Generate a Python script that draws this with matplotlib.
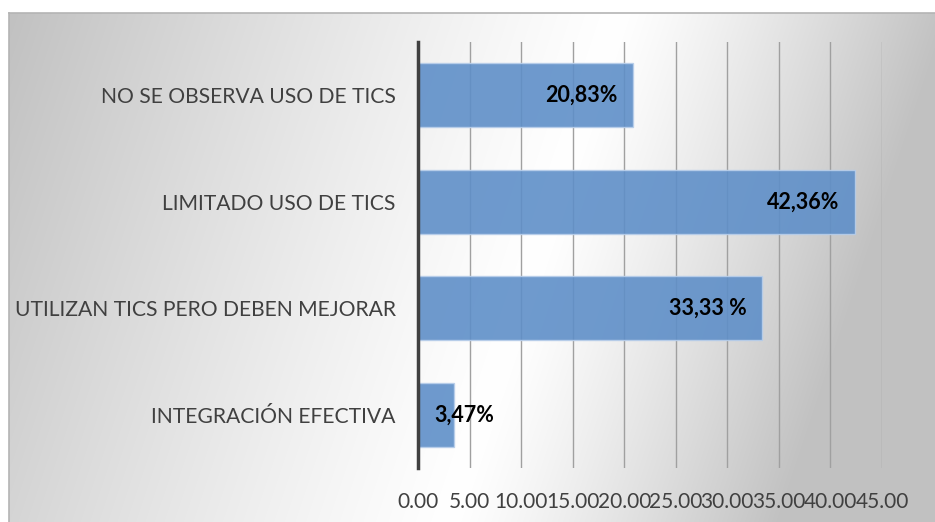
import numpy as np
import matplotlib
matplotlib.use("Agg")
import matplotlib.pyplot as plt

# ---- data ----
categories = ["NO SE OBSERVA USO DE TICS", "LIMITADO USO DE TICS",
              "UTILIZAN TICS PERO DEBEN MEJORAR", "INTEGRACIÓN EFECTIVA"]
values = [20.83, 42.36, 33.33, 3.47]
value_labels = ["20,83%", "42,36%", "33,33 %", "3,47%"]
xticks = [0, 5, 10, 15, 20, 25, 30, 35, 40, 45]
xtick_labels = ["0.00", "5.00", "10.00", "15.00", "20.00", "25.00",
                "30.00", "35.00", "40.00", "45.00"]

W, H = 935, 522
fig = plt.figure(figsize=(W / 100, H / 100), dpi=100)
fig.patch.set_facecolor("white")

# ---- background chart area with gradient ----
bx0, btop = 9, 13
bg = fig.add_axes([bx0 / W, 0, 1 - bx0 / W, (H - btop) / H])
xs = np.arange(bx0, W)
ys = np.arange(btop, H)
X, Y = np.meshgrid(xs, ys)
xb = 620 - 170 * (Y - btop) / (H - btop)
u = X - xb
L = np.where(u < 0, 610.0, 330.0)
t = np.clip(np.abs(u) / L, 0, 1)
val = 255 - 62 * t ** 1.2
img = np.dstack([val, val, val]) / 255.0
bg.imshow(img, aspect="auto", extent=[0, 1, 0, 1], interpolation="bilinear")
bg.set_xlim(0, 1)
bg.set_ylim(0, 1)
bg.set_xticks([])
bg.set_yticks([])
for s in ["right", "bottom"]:
    bg.spines[s].set_visible(False)
for s in ["left", "top"]:
    bg.spines[s].set_color("#B4B4B4")
    bg.spines[s].set_linewidth(1.2)
bg.set_zorder(0)

# ---- main axes ----
ax_l, ax_r, ax_t, ax_b = 418, 882, 42, 468
ax = fig.add_axes([ax_l / W, (H - ax_b) / H, (ax_r - ax_l) / W, (ax_b - ax_t) / H])
ax.set_zorder(1)
ax.patch.set_alpha(0)

ypos = np.arange(len(categories))[::-1]
ax.set_xlim(0, 45)
ax.set_ylim(-0.5, len(categories) - 0.5)

ax.set_xticks(xticks)
ax.set_xticklabels(xtick_labels)
ax.grid(axis="x", color="#A0A0A0", linewidth=1.0, zorder=1)
ax.set_axisbelow(True)

bars = ax.barh(ypos, values, height=0.6, color="#5F8FC8", alpha=0.9,
               edgecolor="#B8CEEA", linewidth=1.0, zorder=2)

ax.set_yticks(ypos)
ax.set_yticklabels(categories)

fam = ["Lato", "DejaVu Sans"]
for lab in ax.get_yticklabels():
    lab.set_fontfamily(fam)
    lab.set_fontsize(15.2)
    lab.set_color("#404040")
for lab in ax.get_xticklabels():
    lab.set_fontfamily(fam)
    lab.set_fontsize(15)
    lab.set_color("#404040")

ax.tick_params(axis="y", length=0, pad=16)
ax.tick_params(axis="x", length=0, pad=17)

for s in ["top", "right", "bottom"]:
    ax.spines[s].set_visible(False)
ax.spines["left"].set_color("#404040")
ax.spines["left"].set_linewidth(2.5)
ax.spines["left"].set_zorder(3)

for b, v, txt in zip(bars, values, value_labels):
    yc = b.get_y() + b.get_height() / 2
    if v < 10:
        ax.annotate(txt, xy=(0, yc), xytext=(12, 0), textcoords="offset points",
                    ha="left", va="center", fontsize=15.5, fontweight="bold",
                    family=fam, color="black", zorder=4)
    else:
        ax.annotate(txt, xy=(v, yc), xytext=(-11, 0), textcoords="offset points",
                    ha="right", va="center", fontsize=15.5, fontweight="bold",
                    family=fam, color="black", zorder=4)

fig.savefig("out.png", dpi=100)
